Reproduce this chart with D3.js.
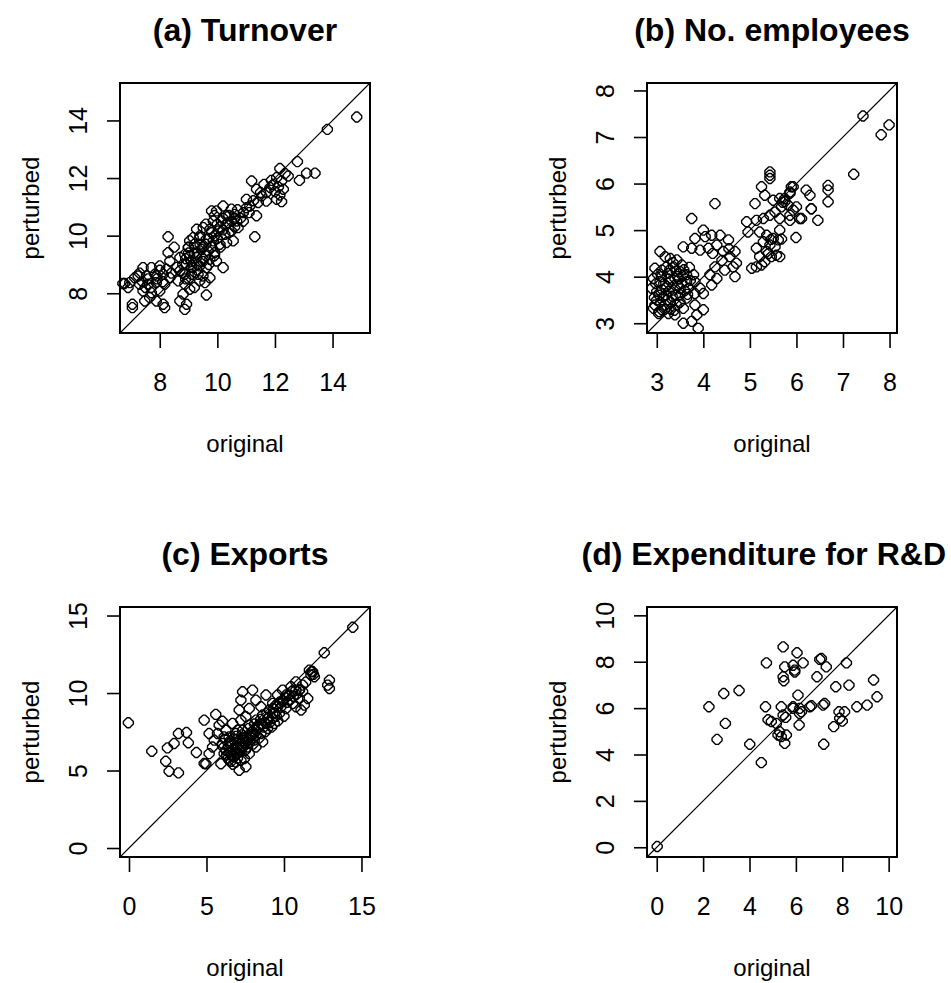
<!DOCTYPE html>
<html><head><meta charset="utf-8">
<script src="https://cdn.jsdelivr.net/npm/d3@7/dist/d3.min.js"></script>
<style>body{margin:0;background:#fff}svg{display:block}</style>
</head><body>
<svg id="chart" width="951" height="983"></svg>
<script>
// ---------- data ----------
const titles = ["(a) Turnover", "(b) No. employees", "(c) Exports", "(d) Expenditure for R&D"];
const xLabel = "original";
const yLabel = "perturbed";

const ticksA = [8, 10, 12, 14];
const ticksB = [3, 4, 5, 6, 7, 8];
const ticksC = [0, 5, 10, 15];
const ticksD = [0, 2, 4, 6, 8, 10];

const limitsA = [6.62, 15.3];
const limitsB = [2.79, 8.16];
const limitsC = [-0.58, 15.55];
const limitsD = [-0.42, 10.36];

// (a) Turnover: [original, perturbed]
const turnover = [
[14.84,14.12],[13.82,13.69],[12.78,12.57],[13.39,12.17],[13.10,12.17],[12.85,11.92],
[12.17,12.33],[12.35,12.16],[12.46,12.07],[12.06,12.02],[12.23,11.90],[11.94,11.78],[12.12,11.69],[11.83,11.67],
[12.29,11.61],[12.00,11.53],[11.71,11.50],[12.17,11.41],[12.06,11.26],[12.23,11.18],[11.62,11.78],[11.88,11.92],
[11.19,11.90],[11.36,11.61],[11.54,11.38],[11.42,11.15],[11.25,11.21],[11.01,11.26],[11.13,11.03],[11.36,10.69],
[11.01,10.97],[11.30,9.96],
[10.20,11.03],[10.49,10.92],[10.61,10.74],[10.32,10.69],[9.97,10.86],[9.80,10.86],[10.67,10.51],[10.38,10.45],
[10.14,10.51],[9.86,10.51],[10.72,10.28],[10.49,10.16],[10.26,10.05],[10.03,10.16],[9.74,10.22],[9.51,10.28],
[9.28,10.22],[10.55,9.82],[10.32,9.76],[10.09,9.70],[9.86,9.82],[9.62,9.88],[9.39,9.93],[9.16,9.93],[9.04,9.82],
[8.99,9.59],[9.22,9.59],[9.45,9.53],[9.68,9.47],[9.91,9.41],[10.20,8.89],[9.97,9.12],[9.74,9.18],[9.51,9.18],
[9.28,9.24],[9.04,9.30],[8.87,9.35],[8.70,9.24],[8.93,9.01],[9.16,8.89],[9.39,8.95],[9.62,8.89],[9.74,8.54],
[9.57,8.37],[9.33,8.66],[9.10,8.66],[8.87,8.66],[8.70,8.78],[8.64,8.43],[8.87,8.31],[9.04,8.14],[8.81,7.97],
[8.93,7.62],[8.87,7.44],[8.70,7.73],[9.62,7.94],[9.39,8.43],[8.29,9.96],[8.29,9.41],[8.35,9.12],[8.12,7.62],
[8.17,7.50],[7.05,7.62],[7.05,7.50],[6.78,8.34],[6.90,8.20],
[7.42,8.89],[7.71,8.89],[8.00,8.95],[8.23,8.83],[7.25,8.60],[7.54,8.60],[7.83,8.66],[8.12,8.66],[8.35,8.54],
[7.30,8.31],[7.59,8.31],[7.88,8.37],[8.17,8.31],[7.13,8.54],[7.42,8.08],[7.71,8.02],[8.00,8.08],[7.65,7.85],
[7.48,7.73],[7.88,7.73],[6.96,8.37],[6.72,8.34],
[9.5,9.6],[9.7,9.9],[9.9,10.0],[10.1,10.3],[10.3,10.4],[10.5,10.5],[9.3,9.4],[9.1,9.1],[9.6,9.3],[9.8,9.6],
[10.0,9.9],[10.4,10.1],[10.6,10.3],[10.8,10.6],[10.9,10.8],[9.2,9.7],[9.4,10.0],[9.6,10.4],[9.0,9.4],[8.8,9.0],
[9.9,10.7],[10.2,10.6],[10.7,10.9],[10.9,10.5],[11.1,10.8],[11.5,11.5],[11.7,11.2],[9.5,8.6],[9.3,9.0],[8.9,8.5],
[9.2,8.2],[8.6,8.9],[8.5,9.6],
[7.6,8.5],[7.9,8.5],[7.4,8.4],[8.1,8.4],[7.7,8.2],[7.3,8.7],[8.4,8.7],[8.0,8.8],
[9.0,9.6],[9.2,9.4],[9.4,9.7],[9.6,9.7],[9.8,10.1],[10.0,10.4],[10.2,10.2],[9.1,8.9],[9.3,8.8],[9.5,9.1],
[9.7,9.0],[9.9,9.3],[10.1,9.6],[8.9,9.2],[8.8,8.7],[9.0,8.5],[10.4,10.7],[10.6,10.6],[7.9,8.6],[7.5,8.2]
];

// (b) No. employees
const employees = [
[7.43,7.45],[7.82,7.05],[7.99,7.26],[7.23,6.20],[6.68,5.96],[6.68,5.86],[6.68,5.61],[6.46,5.21],[6.32,5.46],
[6.11,5.25],[5.99,4.84],[6.21,5.86],[5.89,5.93],[5.86,5.79],[5.75,5.68],[5.82,5.54],[5.93,5.43],[5.86,5.21],
[5.64,5.00],[5.64,4.43],[5.68,4.81],
[5.43,6.25],[5.43,6.18],[5.43,6.11],[5.25,5.93],[5.11,5.57],[5.32,5.75],[5.50,5.64],[5.64,5.68],[5.75,5.61],
[5.86,5.82],[5.93,5.93],[5.68,5.50],[5.54,5.39],[5.43,5.32],[5.29,5.25],[5.14,5.21],[5.64,5.25],[5.86,5.32],
[6.00,5.50],[6.07,5.25],[6.29,5.75],[6.32,5.46],
[5.21,4.96],[5.36,4.89],[5.50,4.82],[5.61,4.79],[5.29,4.75],[5.43,4.68],[5.54,4.64],[5.36,4.54],[5.14,4.61],
[5.21,4.43],[5.32,4.32],[5.46,4.43],[5.57,4.46],[5.14,4.21],[5.04,4.18],[5.25,4.25],[4.93,5.18],[4.96,4.96],
[4.25,5.57],[3.75,5.25],[4.00,5.00],[3.82,4.82],[4.04,4.86],[4.18,4.89],[4.36,4.89],[4.54,4.79],[3.57,4.64],
[3.75,4.61],[3.93,4.57],[4.11,4.61],[4.29,4.68],[4.43,4.54],[4.57,4.43],[4.68,4.54],[4.71,4.29],[4.64,4.21],
[4.46,4.14],[4.25,4.21],[4.14,4.04],[4.29,3.96],[4.68,4.00],[4.18,3.82],[4.00,3.64],[3.82,3.39],[4.00,3.29],
[3.86,3.18],[3.75,3.04],[3.57,3.00],[3.89,2.89],
[3.07,4.54],[3.18,4.43],[3.29,4.39],[3.43,4.36],[3.54,4.25],[3.36,4.21],[3.50,4.11],[3.64,4.04],[3.82,3.89],
[3.93,3.75],[2.96,4.18],[3.11,4.14],[3.25,4.07],[3.39,3.96],[3.54,3.86],[3.68,3.75],[3.82,3.64],[2.93,3.96],
[3.07,3.89],[3.21,3.79],[3.36,3.71],[3.50,3.61],[3.64,3.54],[3.00,3.68],[3.14,3.57],[3.29,3.46],[3.43,3.39],
[3.57,3.32],[2.96,3.39],[3.11,3.29],[3.25,3.21],[3.39,3.18],[2.93,3.32],[3.04,3.21],[3.18,3.39],[2.89,3.75],
[3.50,3.75],[3.64,3.89],[3.79,4.04],
[3.10,4.00],[3.20,4.20],[3.30,3.90],[3.40,3.60],[3.00,3.50],[3.20,3.60],[3.30,3.30],[3.45,4.00],[3.60,3.70],
[3.15,3.85],[2.95,3.55],[3.05,3.25],[3.35,4.30],[3.50,3.45],[3.70,4.20],[3.25,3.95],
[3.02,4.05],[3.12,3.72],[3.22,3.50],[3.33,3.58],[3.44,3.82],[3.55,4.02],[3.66,3.62],[3.28,4.15],[3.08,3.45],
[3.38,3.28],[2.98,3.85],[3.17,3.30],[3.48,3.95],[3.58,4.15],[3.72,3.92],[3.42,4.12],[3.26,3.68],[3.05,3.60],
[4.40,4.35],[4.55,4.60],[4.20,4.50],[5.40,4.50],[5.45,4.80],[5.70,5.60]
];

// (c) Exports
const exportsData = [
[14.44,14.24],[12.60,12.60],[12.93,10.83],[12.93,10.29],[12.82,10.51],[11.85,11.37],[11.74,11.16],[11.96,11.05],
[11.64,11.48],[11.31,9.22],[11.53,9.65],[10.45,10.40],[10.77,10.72],[10.99,10.18],[10.13,9.87],[9.91,9.43],
[9.59,9.11],[9.27,8.68],[8.94,8.36],[7.33,10.08],[7.97,10.19],[7.22,9.54],[7.11,8.90],[8.84,9.87],
[4.85,8.25],[5.60,8.62],[6.03,8.18],[5.17,7.39],[5.82,7.93],[6.14,7.17],[6.46,6.74],[6.89,6.31],[7.22,5.66],
[7.54,5.24],[7.11,5.02],[6.46,5.66],[6.14,6.09],[5.93,5.44],[4.96,5.44],[-0.04,8.08],
[1.47,6.24],[2.48,6.46],[2.91,6.74],[3.19,7.39],[3.71,7.45],[3.83,6.79],[4.35,6.16],[4.85,5.45],[2.37,5.60],
[2.59,4.95],[3.19,4.85],
[6.03,6.74],[6.46,7.17],[6.89,7.39],[7.33,7.60],[7.76,7.93],[8.19,8.25],[8.62,8.58],[9.05,8.90],[9.48,9.22],
[9.91,9.54],[10.34,9.87],[10.77,10.19],[11.20,10.51],[6.25,6.31],[6.68,6.74],[7.11,6.96],[7.54,7.17],[7.97,7.50],
[8.40,7.82],[8.84,8.04],[9.27,8.36],[9.70,8.68],[10.13,9.00],[10.56,9.33],[10.99,9.65],[6.79,5.88],[7.22,6.20],
[7.65,6.52],[8.08,6.96],[8.51,7.39],[8.94,7.71],[9.37,8.04],[6.89,5.55],[7.44,5.77],[7.76,6.09],[8.19,6.52],
[8.62,6.85],[8.19,9.54],[8.51,9.11],[7.76,9.00],[7.54,8.47],[7.22,8.25],[6.68,8.04],[6.25,7.60],[5.71,7.39],
[5.50,6.96],[5.39,6.52],[5.17,6.09],[9.91,10.19],[9.59,9.87],[9.27,9.33],[10.77,9.11],[11.10,8.90],
[6.6,6.0],[7.0,6.5],[7.4,6.9],[7.8,7.2],[8.2,7.6],[8.6,8.0],[9.0,8.4],[9.4,8.7],[9.8,9.1],[10.2,9.4],
[10.6,9.8],[11.0,10.2],[11.4,10.7],[6.4,6.5],[6.9,7.0],[7.3,7.3],[7.7,7.7],[8.1,8.0],[8.5,8.3],[8.9,8.7],
[9.3,9.0],[9.7,9.4],[10.1,9.7],[10.5,10.1],[6.2,7.0],[6.7,5.4],[7.0,5.8],[7.5,6.3],[8.0,6.7],[8.4,7.1],
[8.8,7.5],[9.2,7.8],[9.6,8.2],[10.0,8.5],
[6.3,6.0],[6.5,6.2],[6.7,6.4],[6.9,6.1],[7.1,6.3],[7.3,6.6],[7.5,6.8],[7.7,7.0],[7.9,7.3],[8.1,7.4],
[8.3,7.8],[8.5,8.0],[6.4,5.8],[6.6,5.6],[6.8,5.9],[7.0,6.1],[7.2,6.5],[7.4,6.6],[7.6,6.9],[7.8,6.8],
[8.0,7.1],[8.2,7.3],[8.7,7.8],[9.1,8.1],[9.5,8.5],[6.1,6.5],[6.5,6.9],[6.9,7.2],[7.3,7.1],[7.0,7.6],
[11.9,11.2],[11.8,11.4],[10.4,9.6],[10.8,9.9],[11.2,10.1]
];

// (d) Expenditure for R&D
const expenditure = [
[0.02,0.03],
[2.25,6.06],[2.60,4.65],[2.89,6.63],[2.96,5.34],[3.55,6.76],[4.01,4.44],[4.51,3.65],[4.73,7.95],[5.45,8.64],
[6.05,8.39],[6.31,7.95],[5.52,7.78],[5.88,7.85],[5.95,7.56],[5.48,7.18],[4.69,6.06],[5.37,6.06],[4.80,5.50],
[4.94,5.42],[5.16,5.34],[5.56,5.60],[5.30,4.98],[5.37,4.77],[5.52,4.48],[5.23,4.84],[5.88,6.06],[6.17,5.99],
[6.09,6.56],[6.14,5.27],[6.24,5.84],[6.60,6.06],[7.03,8.10],[7.31,7.78],[6.91,7.35],[7.24,6.20],[7.20,4.44],
[7.72,6.92],[7.63,5.20],[7.89,5.56],[8.10,5.84],[8.18,7.95],[9.35,7.21],[9.50,6.49],[9.07,6.13],[8.63,6.06],
[7.86,5.84],[8.00,5.44],[7.17,6.13],[6.67,6.10],[8.29,6.99],[7.10,8.14],[5.45,7.35],[5.95,7.64],[5.59,4.84],
[5.45,5.70],[6.16,5.77],[5.88,5.99]
];

// ---------- layout ----------
const svg = d3.select("#chart");
const font = "'Liberation Sans', Arial, Helvetica, sans-serif";
const panels = [
  {data: turnover,    ticks: ticksA, lim: limitsA, x0: 120, y0: 83,  title: titles[0]},
  {data: employees,   ticks: ticksB, lim: limitsB, x0: 647, y0: 83,  title: titles[1]},
  {data: exportsData, ticks: ticksC, lim: limitsC, x0: 120, y0: 607, title: titles[2]},
  {data: expenditure, ticks: ticksD, lim: limitsD, x0: 647, y0: 607, title: titles[3], rightAlign: true}
];
const W = 250, H = 250;
const svgW = 951;
// open marker: blunted diamond (low-resolution circle look)
const marker = "M-1.3,-5L1.3,-5L5,-1.3L5,1.3L1.3,5L-1.3,5L-5,1.3L-5,-1.3Z";

panels.forEach(p => {
  const g = svg.append("g").attr("transform", `translate(${p.x0},${p.y0})`);
  const x = d3.scaleLinear().domain(p.lim).range([0, W]);
  const y = d3.scaleLinear().domain(p.lim).range([H, 0]);

  // diagonal
  g.append("line")
    .attr("x1", x(p.lim[0])).attr("y1", y(p.lim[0]))
    .attr("x2", x(p.lim[1])).attr("y2", y(p.lim[1]))
    .attr("stroke", "#000").attr("stroke-width", 1.1);

  // points
  g.selectAll("path.pt").data(p.data).enter().append("path").attr("class", "pt")
    .attr("d", marker)
    .attr("transform", d => `translate(${x(d[0])},${y(d[1])})`)
    .attr("fill", "none").attr("stroke", "#000").attr("stroke-width", 1.4)
    .attr("stroke-linejoin", "round");

  // box
  g.append("rect").attr("x", 0).attr("y", 0).attr("width", W).attr("height", H)
    .attr("fill", "none").attr("stroke", "#000").attr("stroke-width", 2);

  // x axis
  const gx = g.append("g").attr("transform", `translate(0,${H})`)
    .call(d3.axisBottom(x).tickValues(p.ticks).tickSize(15).tickSizeOuter(0).tickFormat(d3.format("d")));
  gx.select(".domain").remove();
  gx.selectAll("line").attr("stroke-width", 1.6);
  gx.selectAll("text").attr("y", 49).attr("dy", null)
    .attr("dominant-baseline", "central")
    .attr("font-family", font).attr("font-size", 25).attr("fill", "#000");

  // y axis
  const gy = g.append("g")
    .call(d3.axisLeft(y).tickValues(p.ticks).tickSize(13).tickSizeOuter(0).tickFormat(d3.format("d")));
  gy.select(".domain").remove();
  gy.selectAll("line").attr("stroke-width", 1.6);
  gy.selectAll("text").attr("x", null).attr("dy", null)
    .attr("transform", "translate(-42,0) rotate(-90)")
    .attr("text-anchor", "middle").attr("dominant-baseline", "central")
    .attr("font-family", font).attr("font-size", 25).attr("fill", "#000");

  // axis titles
  g.append("text").attr("x", W / 2).attr("y", H + 110)
    .attr("text-anchor", "middle").attr("dominant-baseline", "central")
    .attr("font-family", font).attr("font-size", 24).text(xLabel);
  g.append("text").attr("transform", `translate(-90,${H / 2}) rotate(-90)`)
    .attr("text-anchor", "middle").attr("dominant-baseline", "central")
    .attr("font-family", font).attr("font-size", 24).text(yLabel);

  // title (the long last one is kept inside the page's right edge)
  g.append("text")
    .attr("x", p.rightAlign ? (svgW - 5 - p.x0) : W / 2).attr("y", -53)
    .attr("text-anchor", p.rightAlign ? "end" : "middle").attr("dominant-baseline", "central")
    .attr("font-family", font).attr("font-weight", "bold").attr("font-size", 32).text(p.title);
});
</script>
</body></html>
